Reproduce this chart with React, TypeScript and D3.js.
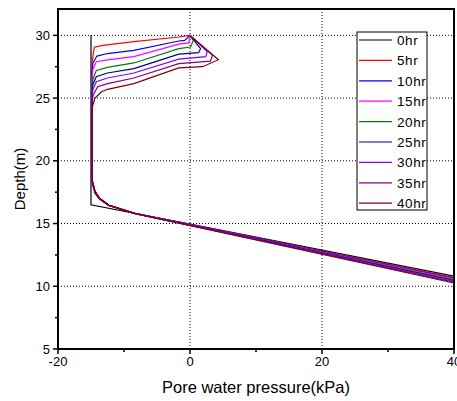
import React from 'react';
import * as d3 from 'd3';

type Pt = [number, number];

// pore pressure (kPa), depth (m)
const hr0: Pt[] = [[-15, 30], [-15, 16.5], [-8.3, 15.8], [0, 14.95], [20, 12.88], [40, 10.8]];
const hr5: Pt[] = [[0, 30], [-1.7, 29.87], [-8.5, 29.5], [-13.2, 29.2], [-14.5, 29.05], [-14.85, 27.8],
  [-14.85, 18.3], [-14.4, 17.4], [-13.7, 16.95], [-12.3, 16.45], [-8.3, 15.82], [40, 10.7]];
const hr10: Pt[] = [[0, 30], [-0.8, 29.6], [-1.7, 29.55], [-8.5, 28.8], [-12.5, 28.55], [-14.1, 28.35], [-14.7, 27.8], [-14.85, 27.0],
  [-14.85, 18.4], [-14.4, 17.45], [-13.7, 16.97], [-12.3, 16.45], [-8.3, 15.81], [40, 10.64]];
const hr15: Pt[] = [[0, 30], [-0.15, 29.4], [-1.7, 29.3], [-8.5, 28.3], [-12.5, 28.05], [-14.2, 27.9], [-14.7, 27.3], [-14.85, 26.5],
  [-14.85, 18.4], [-14.4, 17.45], [-13.7, 16.97], [-12.3, 16.45], [-8.3, 15.8], [40, 10.58]];
const hr20: Pt[] = [[0, 30], [0.5, 29.6], [0.1, 29.07], [-1.7, 28.94], [-8.5, 27.8], [-12.5, 27.45], [-14.2, 27.2], [-14.7, 26.5], [-14.85, 25.8],
  [-14.85, 18.45], [-14.4, 17.5], [-13.7, 16.98], [-12.3, 16.45], [-8.3, 15.8], [40, 10.52]];
const hr25: Pt[] = [[0, 30], [1.6, 28.94], [1.3, 28.62], [-1.7, 28.5], [-8.5, 27.35], [-12.5, 27.0], [-14.2, 26.7], [-14.7, 26.1], [-14.85, 25.3],
  [-14.85, 18.45], [-14.4, 17.5], [-13.7, 16.98], [-12.3, 16.45], [-8.3, 15.79], [40, 10.46]];
const hr30: Pt[] = [[0, 30], [2.6, 28.7], [2.4, 28.3], [-1.7, 28.1], [-8.5, 27.0], [-12.5, 26.6], [-14.2, 26.3], [-14.7, 25.7], [-14.85, 24.9],
  [-14.85, 18.5], [-14.4, 17.55], [-13.7, 17.0], [-12.3, 16.46], [-8.3, 15.79], [40, 10.4]];
const hr35: Pt[] = [[0, 30], [3.4, 28.4], [3.1, 27.95], [-1.7, 27.75], [-8.5, 26.6], [-12.5, 26.15], [-14.0, 25.9], [-14.7, 25.2], [-14.85, 24.5],
  [-14.85, 18.5], [-14.4, 17.55], [-13.7, 17.0], [-12.3, 16.46], [-8.3, 15.78], [40, 10.33]];
const hr40: Pt[] = [[0, 30], [4.3, 28.06], [1.9, 27.5], [-1.7, 27.4], [-8.5, 26.15], [-12.5, 25.7], [-13.4, 25.5], [-14.4, 25.0], [-14.85, 24.2],
  [-14.85, 18.55], [-14.4, 17.6], [-13.7, 17.02], [-12.3, 16.47], [-8.3, 15.78], [40, 10.26]];

const labels = ['0hr', '5hr', '10hr', '15hr', '20hr', '25hr', '30hr', '35hr', '40hr'];
const colors = ['#000000', '#ff0000', '#0000ff', '#ff00ff', '#008000', '#000080', '#8000ff', '#800080', '#800000'];
const series = [hr0, hr5, hr10, hr15, hr20, hr25, hr30, hr35, hr40];

const xMajor = [-20, 0, 20, 40];
const xMinor = [-10, 10, 30];
const yMajor = [5, 10, 15, 20, 25, 30];
const yMinor = [7.5, 12.5, 17.5, 22.5, 27.5];
const xGrid = [0, 20];
const yGrid = [10, 15, 20, 25, 30];

const W = 457, H = 401;
const m = { left: 58, right: 3, top: 9, bottom: 52 };
const font = '"Liberation Sans", Arial, sans-serif';

export default function App() {
  const x = d3.scaleLinear().domain([-20, 40]).range([m.left, W - m.right]);
  const y = d3.scaleLinear().domain([5, 32.1]).range([H - m.bottom, m.top]);
  const line = d3.line<Pt>().x(d => x(d[0])).y(d => y(d[1]));

  const legX = 357, legY = 32, rowH = 20.4;

  return (
    <div style={{ position: 'absolute', left: 0, top: 0 }}>
      <svg width={W} height={H} style={{ display: 'block', background: '#fff' }} fontFamily={font}>
        <defs>
          <clipPath id="plot">
            <rect x={m.left} y={m.top} width={W - m.left - m.right} height={H - m.top - m.bottom} />
          </clipPath>
        </defs>
        {/* grid */}
        {xGrid.map(v => (
          <line key={'gx' + v} x1={x(v)} x2={x(v)} y1={y(5)} y2={m.top} stroke="#000" strokeDasharray="1,2" />
        ))}
        {yGrid.map(v => (
          <line key={'gy' + v} x1={m.left} x2={W - m.right} y1={y(v)} y2={y(v)} stroke="#000" strokeDasharray="1,2" />
        ))}
        {/* curves */}
        <g clipPath="url(#plot)">
          {series.map((s, i) => (
            <path key={labels[i]} d={line(s) ?? ''} fill="none" stroke={colors[i]} strokeWidth={1.2} />
          ))}
        </g>
        {/* frame */}
        <rect x={m.left} y={m.top} width={W - m.left - m.right} height={H - m.top - m.bottom}
          fill="none" stroke="#000" strokeWidth={2} />
        {/* ticks */}
        {xMajor.map(v => (
          <g key={'xt' + v}>
            <line x1={x(v)} x2={x(v)} y1={y(5)} y2={y(5) + 5} stroke="#000" strokeWidth={1.5} />
            <text x={x(v)} y={y(5) + 17} textAnchor="middle" fontSize={13}>{v}</text>
          </g>
        ))}
        {xMinor.map(v => (
          <line key={'xm' + v} x1={x(v)} x2={x(v)} y1={y(5)} y2={y(5) + 3} stroke="#000" strokeWidth={1.5} />
        ))}
        {yMajor.map(v => (
          <g key={'yt' + v}>
            <line x1={m.left - 5} x2={m.left} y1={y(v)} y2={y(v)} stroke="#000" strokeWidth={1.5} />
            <text x={m.left - 8} y={y(v) + 4.5} textAnchor="end" fontSize={13}>{v}</text>
          </g>
        ))}
        {yMinor.map(v => (
          <line key={'ym' + v} x1={m.left - 3} x2={m.left} y1={y(v)} y2={y(v)} stroke="#000" strokeWidth={1.5} />
        ))}
        {/* axis titles */}
        <text x={(m.left + W - m.right) / 2} y={393} textAnchor="middle" fontSize={16.5}>Pore water pressure(kPa)</text>
        <text transform={`translate(25,${(m.top + H - m.bottom) / 2}) rotate(-90)`} textAnchor="middle" fontSize={15}>Depth(m)</text>
        {/* legend */}
        <rect x={legX} y={legY} width={70} height={178} fill="#fff" stroke="none" />
        {labels.map((l, i) => (
          <g key={'lg' + l}>
            <line x1={legX + 2} x2={legX + 35} y1={legY + 8 + i * rowH} y2={legY + 8 + i * rowH} stroke={colors[i]} strokeWidth={1.2} />
            <text x={legX + 40} y={legY + 13 + i * rowH} fontSize={13.5} letterSpacing={0.6}>{l}</text>
          </g>
        ))}
        <rect x={legX} y={legY} width={70} height={178} fill="none" stroke="#000" strokeWidth={1} />
      </svg>
    </div>
  );
}
